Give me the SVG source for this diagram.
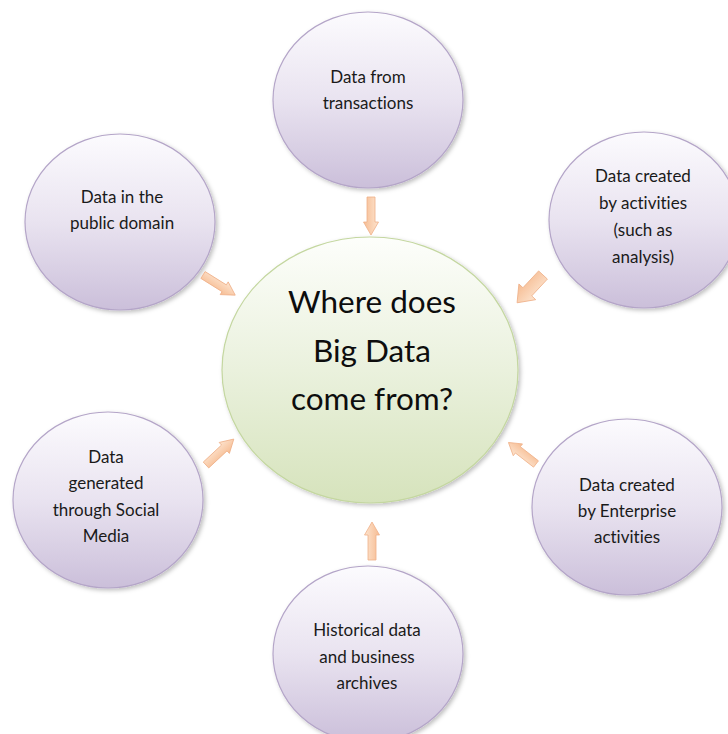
<svg xmlns="http://www.w3.org/2000/svg" width="728" height="734" viewBox="0 0 728 734">
<defs>
<linearGradient id="gPurple" x1="0" y1="0" x2="0" y2="1">
<stop offset="0" stop-color="#fcfbfe"/>
<stop offset="0.5" stop-color="#e9e3f0"/>
<stop offset="1" stop-color="#cbbfda"/>
</linearGradient>
<linearGradient id="gGreen" x1="0" y1="0" x2="0" y2="1">
<stop offset="0" stop-color="#fdfefb"/>
<stop offset="0.5" stop-color="#eaf1dd"/>
<stop offset="1" stop-color="#d6e3bc"/>
</linearGradient>
<linearGradient id="gArrow" x1="0" y1="0" x2="0" y2="1">
<stop offset="0" stop-color="#fde4cf"/>
<stop offset="1" stop-color="#f6bc92"/>
</linearGradient>
<filter id="shadow" x="-10%" y="-10%" width="125%" height="125%">
<feDropShadow dx="2" dy="2" stdDeviation="2" flood-color="#000" flood-opacity="0.25"/>
</filter>
<path id="arrow" d="M0,-4 L25,-4 L25,-7.5 L38,0 L25,7.5 L25,4 L0,4 Z"/>
<path id="arrowBig" d="M0,-6 L23,-6 L23,-11.5 L38,0 L23,11.5 L23,6 L0,6 Z"/>
<style>
.outer { fill: url(#gPurple); stroke: #b4a5c8; stroke-width: 1.2; filter: url(#shadow); }
.center { fill: url(#gGreen); stroke: #c4d7a0; stroke-width: 1.2; filter: url(#shadow); }
.lbl { font-family: Lato, "Liberation Sans", sans-serif; font-size: 17px; fill: #1a1a1a; text-anchor: middle; font-variant-ligatures: none; }
.title { font-family: Lato, "Liberation Sans", sans-serif; font-size: 31.5px; fill: #0d0d0d; text-anchor: middle; font-variant-ligatures: none; }
.arr { fill: url(#gArrow); stroke: #efb088; stroke-width: 0.8; }
</style>
</defs>
<rect width="728" height="734" fill="#ffffff"/>

<g id="center">
<ellipse class="center" cx="370" cy="370" rx="148" ry="133"/>
<text class="title" x="372" y="313">Where does</text>
<text class="title" x="372" y="362">Big Data</text>
<text class="title" x="372" y="410">come from?</text>
</g>

<g id="transactions">
<ellipse class="outer" cx="368" cy="100" rx="95" ry="88"/>
<text class="lbl" x="368" y="83">Data from</text>
<text class="lbl" x="368" y="109">transactions</text>
</g>

<g id="public-domain">
<ellipse class="outer" cx="120" cy="222" rx="95" ry="88"/>
<text class="lbl" x="122" y="203">Data in the</text>
<text class="lbl" x="122" y="229">public domain</text>
</g>

<g id="activities">
<ellipse class="outer" cx="644" cy="220" rx="95" ry="88"/>
<text class="lbl" x="643" y="182">Data created</text>
<text class="lbl" x="643" y="209">by activities</text>
<text class="lbl" x="643" y="236">(such as</text>
<text class="lbl" x="643" y="263">analysis)</text>
</g>

<g id="social-media">
<ellipse class="outer" cx="108" cy="500" rx="95" ry="88"/>
<text class="lbl" x="106" y="463">Data</text>
<text class="lbl" x="106" y="489">generated</text>
<text class="lbl" x="106" y="516">through Social</text>
<text class="lbl" x="106" y="542">Media</text>
</g>

<g id="enterprise">
<ellipse class="outer" cx="627" cy="507" rx="95" ry="88"/>
<text class="lbl" x="627" y="491">Data created</text>
<text class="lbl" x="627" y="517">by Enterprise</text>
<text class="lbl" x="627" y="543">activities</text>
</g>

<g id="historical">
<ellipse class="outer" cx="368" cy="654" rx="95" ry="88"/>
<text class="lbl" x="367" y="636">Historical data</text>
<text class="lbl" x="367" y="663">and business</text>
<text class="lbl" x="367" y="689">archives</text>
</g>

<g id="connectors">
<use href="#arrow" class="arr" transform="translate(371,197) rotate(90)"/>
<use href="#arrow" class="arr" transform="translate(203,275) rotate(32)"/>
<use href="#arrowBig" class="arr" transform="translate(543,275) rotate(133)"/>
<use href="#arrow" class="arr" transform="translate(206,465) rotate(-43)"/>
<use href="#arrow" class="arr" transform="translate(536,464) rotate(-142) scale(0.92,1)"/>
<use href="#arrow" class="arr" transform="translate(372,560) rotate(-90)"/>
</g>
</svg>
